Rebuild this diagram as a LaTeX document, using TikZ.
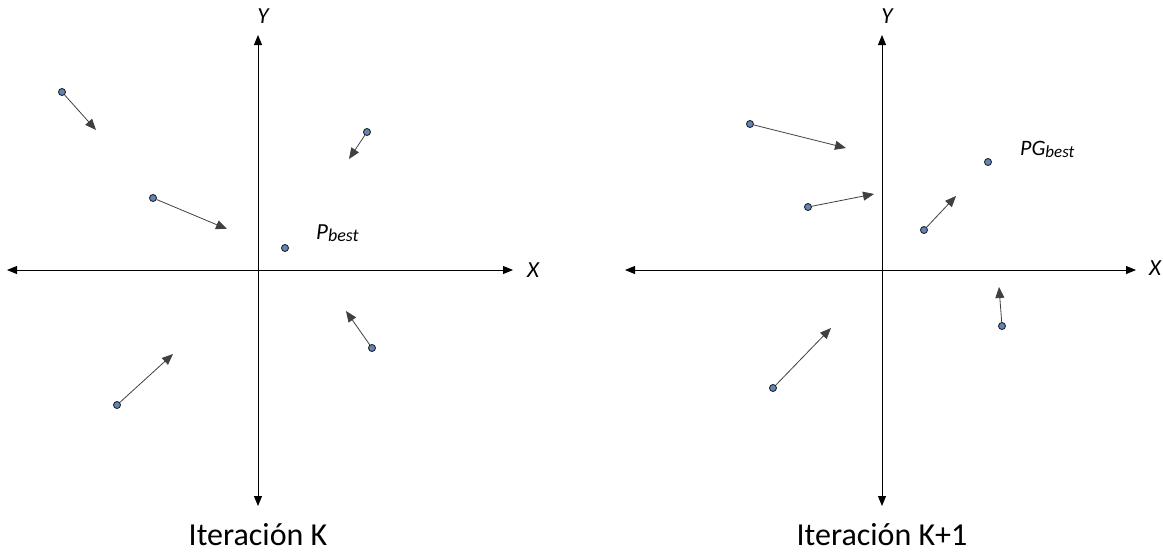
\documentclass[tikz,border=0pt]{standalone}
\usepackage{fontspec}
\setmainfont{Carlito}
\usetikzlibrary{arrows.meta}
\definecolor{dotblue}{RGB}{98,132,184}
\begin{document}
\begin{tikzpicture}[x=1pt,y=-1pt,
  axis/.style={line width=0.9pt,-{Triangle[length=10pt,width=8pt]}},
  mv/.style={line width=0.8pt,draw=black!75,-{Triangle[length=11pt,width=9pt]}},
  particle/.style={circle,draw=black!85,fill=dotblue,line width=0.9pt,inner sep=0pt,minimum size=7pt},
  axlabel/.style={font=\itshape\fontsize{23}{23}\selectfont},
  caption/.style={anchor=base,font=\fontsize{32}{32}\selectfont}]
\useasboundingbox (0,0) rectangle (1163,552);
% ---- left panel: iteration K ----
\coordinate (lo) at (258,270);
\coordinate (lyt) at (258,35);
\coordinate (lyb) at (258,506);
\coordinate (lxl) at (7,270);
\coordinate (lxr) at (513,270);
\draw[axis] (lo) -- (lyt);
\draw[axis] (lo) -- (lyb);
\draw[axis] (lo) -- (lxl);
\draw[axis] (lo) -- (lxr);
\node[axlabel] (ly) at (263,16) {Y};
\node[axlabel] (lx) at (533,270) {X};
\node[caption] (lcap) at (258,545) {Iteración K};

\node[particle] (a1) at (62,92) {};  \coordinate (a1e) at (96,130);
\node[particle] (a2) at (367,132) {}; \coordinate (a2e) at (349,159);
\node[particle] (a3) at (153,198) {}; \coordinate (a3e) at (227,229);
\node[particle] (a4) at (285,248) {};
\node[particle] (a5) at (372,348) {}; \coordinate (a5e) at (346,311);
\node[particle] (a6) at (117,405) {}; \coordinate (a6e) at (173,354);
\foreach \p in {a1,a2,a3,a5,a6} \draw[mv] (\p) -- (\p e);
\node[anchor=west,inner sep=0pt] (pb) at (316,233)
  {\itshape\fontsize{23}{23}\selectfont P\raisebox{-2pt}{\fontsize{18}{18}\selectfont best}};

% ---- right panel: iteration K+1 ----
\coordinate (ro) at (882,270);
\coordinate (ryt) at (882,35);
\coordinate (ryb) at (882,506);
\coordinate (rxl) at (625,270);
\coordinate (rxr) at (1136,270);
\draw[axis] (ro) -- (ryt);
\draw[axis] (ro) -- (ryb);
\draw[axis] (ro) -- (rxl);
\draw[axis] (ro) -- (rxr);
\node[axlabel] (ry) at (887,16) {Y};
\node[axlabel] (rx) at (1155,268) {X};
\node[caption] (rcap) at (882,545) {Iteración K+1};

\node[particle] (b1) at (750,124) {}; \coordinate (b1e) at (846,148);
\node[particle] (b2) at (808,207) {}; \coordinate (b2e) at (874,194);
\node[particle] (b3) at (924,230) {}; \coordinate (b3e) at (956,196);
\node[particle] (b4) at (988,162) {};
\node[particle] (b5) at (1002,326) {}; \coordinate (b5e) at (999,287);
\node[particle] (b6) at (773,388) {}; \coordinate (b6e) at (831,328);
\foreach \p in {b1,b2,b3,b5,b6} \draw[mv] (\p) -- (\p e);
\node[anchor=west,inner sep=0pt] (pg) at (1020,149)
  {\itshape\fontsize{22}{22}\selectfont PG\raisebox{-2pt}{\fontsize{17}{17}\selectfont best}};
\end{tikzpicture}
\end{document}
